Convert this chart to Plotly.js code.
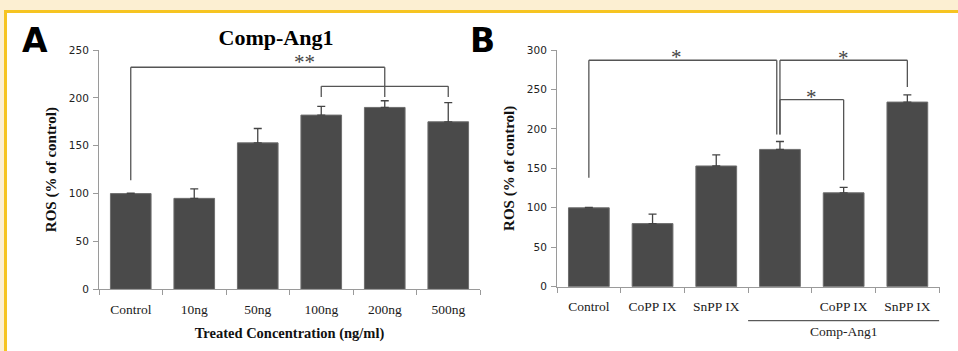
<!DOCTYPE html>
<html>
<head>
<meta charset="utf-8">
<script src="https://cdn.plot.ly/plotly-3.0.1.min.js"></script>
<style>html,body{margin:0;padding:0;background:#fff;}#chart{width:958px;height:351px;}</style>
</head>
<body>
<div id="chart"></div>
<script>
// ---- Data ----
const catsA = ["Control", "10ng", "50ng", "100ng", "200ng", "500ng"];
const valsA = [100, 95, 153, 182, 190, 175];
const errA = [0.5, 10, 15, 9, 7, 20];

const catsB = ["Control", "CoPP IX", "SnPP IX", "Comp-Ang1", "Comp-Ang1 + CoPP IX", "Comp-Ang1 + SnPP IX"];
const tickTextB = ["Control", "CoPP IX", "SnPP IX", "", "CoPP IX", "SnPP IX"];
const valsB = [100, 80, 153, 174, 119, 234];
const errB = [0.5, 12, 14, 10, 7, 9];

// significance brackets: [leftIndex, rightIndex, topValue, leftBottom, rightBottom]
const bracketsA = [[0, 4, 232, 114, 201], [3, 5, 212, 201, 201]];
const bracketsB = [[0, 2.95, 287, 138, 193], [3, 5, 287, 193, 253], [3, 4, 237, 193, 135]];
// significance labels: [xIndex, value, text]
const starsA = [[2.73, 237, "**"]];
const starsB = [[1.38, 291, "*"], [4.0, 290, "*"], [3.49, 241, "*"]];

const W = 958, H = 351;
const px = v => v / W;
const py = v => 1 - v / H;

const barColor = "#4a4a4a";
const lineColor = "#555555";
const axisColor = "#9a9a9a";

function barTrace(x, y, err, xa, ya) {
  return {
    type: "bar", x: x, y: y, xaxis: xa, yaxis: ya,
    marker: {color: barColor, line: {color: "#6e6e6e", width: 1}},
    error_y: {type: "data", symmetric: false, array: err, arrayminus: err.map(() => 0),
      color: "#444", thickness: 1.3, width: 4},
    showlegend: false, hoverinfo: "skip"
  };
}

const shapes = [];
// outer frame (page decoration)
shapes.push({type: "rect", xref: "paper", yref: "paper", x0: 0, x1: 1, y0: py(10), y1: 1, fillcolor: "#fcefd2", line: {width: 0}, layer: "below"});
shapes.push({type: "rect", xref: "paper", yref: "paper", x0: 0, x1: px(4), y0: 0, y1: 1, fillcolor: "#fcefd2", line: {width: 0}, layer: "below"});
shapes.push({type: "rect", xref: "paper", yref: "paper", x0: px(4), x1: 1, y0: py(13), y1: py(10), fillcolor: "#f6c421", line: {width: 0}, layer: "below"});
shapes.push({type: "rect", xref: "paper", yref: "paper", x0: px(4), x1: px(7), y0: 0, y1: py(10), fillcolor: "#f6c421", line: {width: 0}, layer: "below"});

function addBrackets(list, xa, ya) {
  list.forEach(b => {
    const [x1, x2, yt, yb1, yb2] = b;
    const ln = {color: lineColor, width: 1.3};
    shapes.push({type: "line", xref: xa, yref: ya, x0: x1, x1: x1, y0: yb1, y1: yt, line: ln});
    shapes.push({type: "line", xref: xa, yref: ya, x0: x1, x1: x2, y0: yt, y1: yt, line: ln});
    shapes.push({type: "line", xref: xa, yref: ya, x0: x2, x1: x2, y0: yt, y1: yb2, line: ln});
  });
}
addBrackets(bracketsA, "x", "y");
addBrackets(bracketsB, "x2", "y2");
// group line under Comp-Ang1 categories
shapes.push({type: "line", xref: "x2", yref: "paper", x0: 2.5, x1: 5.5, y0: py(320.7), y1: py(320.7), line: {color: "#333", width: 1}});

const starFont = {family: "Liberation Serif", size: 21, color: "#444"};
const annotations = [];
starsA.forEach(s => annotations.push({xref: "x", yref: "y", x: s[0], y: s[1], text: s[2], showarrow: false,
  font: starFont, yanchor: "middle"}));
starsB.forEach(s => annotations.push({xref: "x2", yref: "y2", x: s[0], y: s[1], text: s[2], showarrow: false,
  font: starFont, yanchor: "middle"}));
annotations.push({xref: "paper", yref: "paper", x: px(34.5), y: py(41), text: "A", showarrow: false,
  font: {family: "DejaVu Sans", size: 33, color: "#000", weight: "bold"}, xanchor: "center", yanchor: "middle"});
annotations.push({xref: "paper", yref: "paper", x: px(482), y: py(41), text: "B", showarrow: false,
  font: {family: "DejaVu Sans", size: 33, color: "#000", weight: "bold"}, xanchor: "center", yanchor: "middle"});
annotations.push({xref: "x2", yref: "paper", x: 4, y: py(331.7), text: "Comp-Ang1", showarrow: false,
  font: {family: "Liberation Serif", size: 13.5, color: "#222"}, xanchor: "center", yanchor: "middle"});

const xCommon = {
  type: "category", tickson: "boundaries", ticks: "outside", ticklen: 5, tickcolor: axisColor,
  showline: true, linecolor: axisColor, linewidth: 1, showgrid: false, zeroline: false,
  ticklabelstandoff: 7,
  tickfont: {family: "Liberation Serif", size: 13.5, color: "#1a1a1a"}, fixedrange: true
};
const yCommon = {
  ticks: "outside", ticklen: 5, tickcolor: axisColor, showline: true, linecolor: axisColor, linewidth: 1,
  showgrid: false, zeroline: false, tickfont: {family: "DejaVu Sans", size: 10.5, color: "#222"},
  ticklabelstandoff: 2, fixedrange: true
};
const yTitleFont = {family: "Liberation Serif", size: 15, color: "#111", weight: "bold"};

const layout = {
  width: W, height: H,
  margin: {l: 0, r: 0, t: 0, b: 0},
  paper_bgcolor: "#ffffff", plot_bgcolor: "rgba(0,0,0,0)",
  bargap: 0.36,
  title: {text: "Comp-Ang1", x: px(276), y: py(37), xanchor: "center", yanchor: "middle", xref: "paper", yref: "paper",
    font: {family: "Liberation Serif", size: 22, color: "#000", weight: "bold"}},
  xaxis: Object.assign({}, xCommon, {domain: [px(99), px(480)], anchor: "y",
    title: {text: "Treated Concentration (ng/ml)", standoff: 12, font: {family: "Liberation Serif", size: 14.5, color: "#111", weight: "bold"}}}),
  yaxis: Object.assign({}, yCommon, {domain: [py(289.3), py(50)], range: [0, 250], tickvals: [0, 50, 100, 150, 200, 250], anchor: "x",
    title: {text: "ROS (% of control)", standoff: 8, font: yTitleFont}}),
  xaxis2: Object.assign({}, xCommon, {domain: [px(557), px(939.7)], anchor: "y2",
    tickmode: "array", tickvals: catsB, ticktext: tickTextB}),
  yaxis2: Object.assign({}, yCommon, {domain: [py(286.7), py(50)], range: [0, 300], tickvals: [0, 50, 100, 150, 200, 250, 300], anchor: "x2",
    title: {text: "ROS (% of control)", standoff: 8, font: yTitleFont}}),
  shapes: shapes,
  annotations: annotations
};

Plotly.newPlot("chart", [
  barTrace(catsA, valsA, errA, "x", "y"),
  barTrace(catsB, valsB, errB, "x2", "y2")
], layout, {displayModeBar: false, staticPlot: true});
</script>
</body>
</html>
